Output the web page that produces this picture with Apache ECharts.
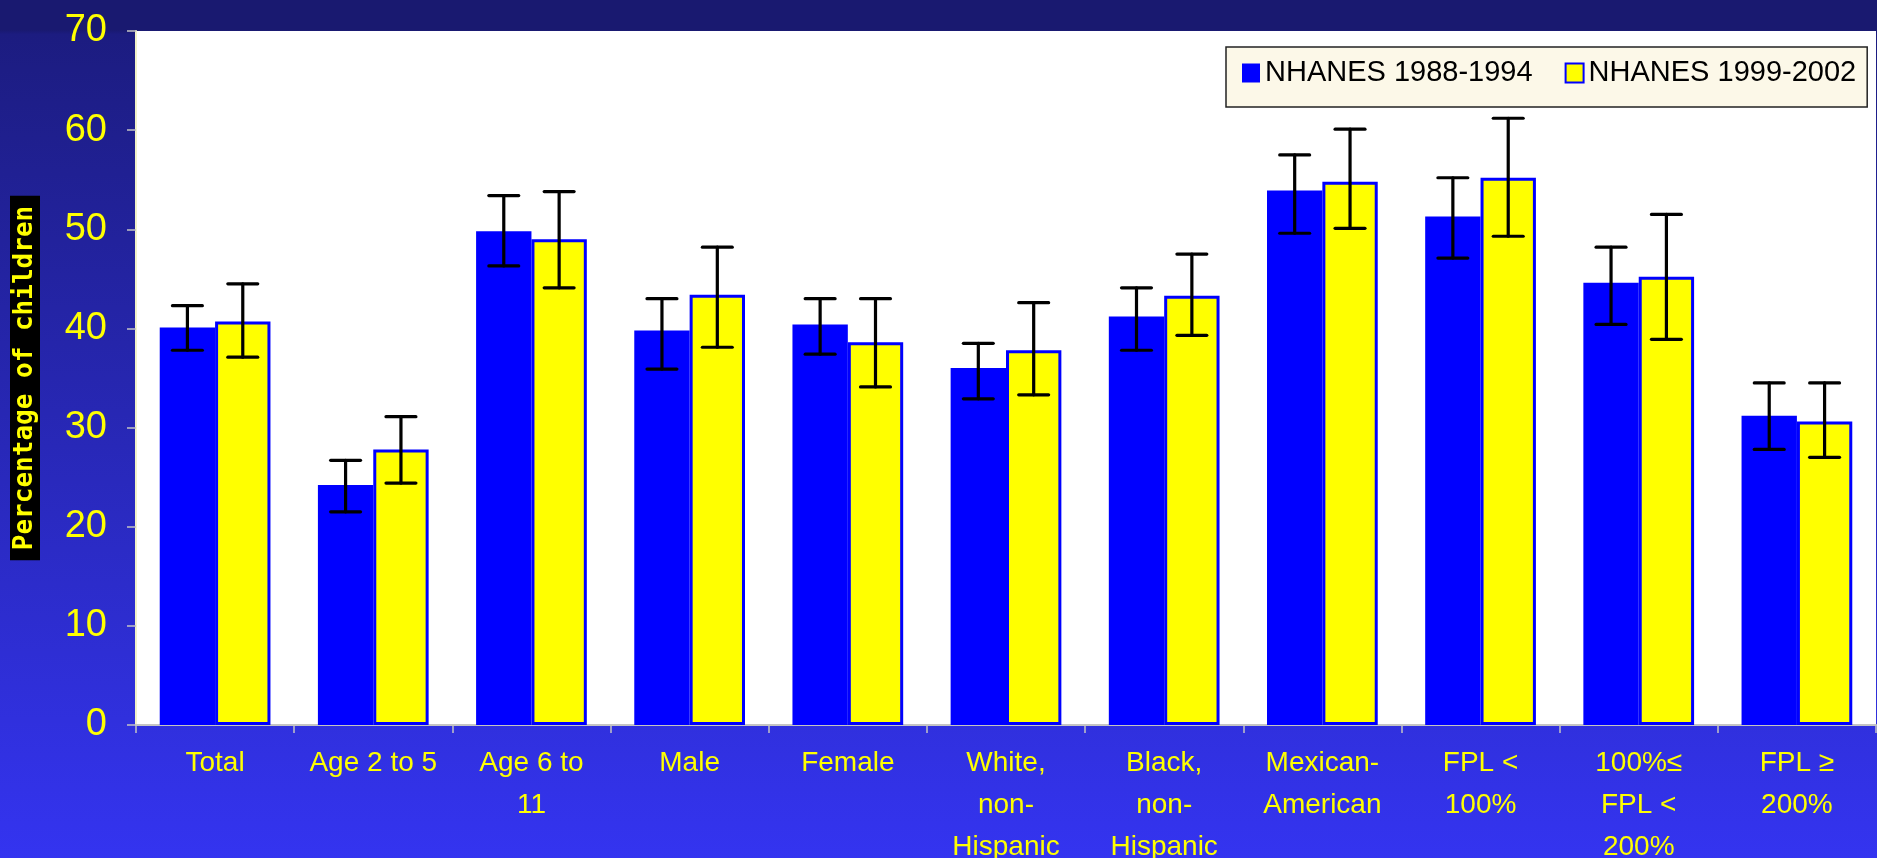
<!DOCTYPE html>
<html>
<head>
<meta charset="utf-8">
<script src="https://cdn.jsdelivr.net/npm/echarts@6/dist/echarts.min.js"></script>
<style>
html,body{margin:0;padding:0;width:1877px;height:858px;overflow:hidden;}
#chart{width:1877px;height:858px;}
</style>
</head>
<body>
<div id="chart"></div>
<script>
const categories = ["Total", "Age 2 to 5", "Age 6 to\n11", "Male", "Female", "White,\nnon-\nHispanic", "Black,\nnon-\nHispanic", "Mexican-\nAmerican", "FPL <\n100%", "100%≤\nFPL <\n200%", "FPL ≥\n200%"];
const seriesNames = ["NHANES 1988-1994", "NHANES 1999-2002"];
const values1988 = [40.1, 24.2, 49.8, 39.8, 40.4, 36.0, 41.2, 53.9, 51.3, 44.6, 31.2];
const upper1988  = [42.3, 26.7, 53.4, 43.0, 43.0, 38.5, 44.1, 57.5, 55.2, 48.2, 34.5];
const lower1988  = [37.8, 21.5, 46.3, 35.9, 37.4, 32.9, 37.8, 49.6, 47.1, 40.4, 27.8];
const values1999 = [40.7, 27.8, 49.0, 43.4, 38.6, 37.8, 43.3, 54.8, 55.2, 45.2, 30.6];
const upper1999  = [44.5, 31.1, 53.8, 48.2, 43.0, 42.6, 47.5, 60.1, 61.2, 51.5, 34.5];
const lower1999  = [37.1, 24.4, 44.1, 38.1, 34.1, 33.3, 39.3, 50.1, 49.3, 38.9, 27.0];
const yTicks = [0, 10, 20, 30, 40, 50, 60, 70];

const FONT = "'Liberation Sans', Arial, sans-serif";
const CAT_GAP = 0.30;

function errorSeries(upper, lower, side) {
  return {
    type: 'custom',
    z: 10,
    silent: true,
    data: upper.map((u, i) => [i, u, lower[i]]),
    encode: { x: 0, y: [1, 2] },
    renderItem: function (params, api) {
      const idx = api.value(0);
      const band = api.size([1, 0])[0];
      const barW = band * (1 - CAT_GAP) / 2;
      const x = api.coord([idx, 0])[0] + side * barW / 2;
      const yTop = api.coord([idx, api.value(1)])[1];
      const yBot = api.coord([idx, api.value(2)])[1];
      const half = barW * 0.27;
      const style = { stroke: '#000', lineWidth: 3.2, lineCap: 'round' };
      return {
        type: 'group',
        children: [
          { type: 'line', shape: { x1: x, y1: yTop, x2: x, y2: yBot }, style: style },
          { type: 'line', shape: { x1: x - half, y1: yTop, x2: x + half, y2: yTop }, style: style },
          { type: 'line', shape: { x1: x - half, y1: yBot, x2: x + half, y2: yBot }, style: style }
        ]
      };
    }
  };
}

const chart = echarts.init(document.getElementById('chart'), null, { renderer: 'canvas' });
chart.setOption({
  animation: false,
  backgroundColor: {
    type: 'linear', x: 0, y: 0, x2: 0, y2: 1,
    colorStops: [
      { offset: 0, color: '#191970' },
      { offset: 0.035, color: '#191970' },
      { offset: 0.04, color: '#1c1c80' },
      { offset: 1, color: '#3434F0' }
    ]
  },
  grid: {
    left: 136, right: 1, top: 31, bottom: 133,
    outerBoundsMode: 'none',
    containLabel: false,
    show: true, backgroundColor: '#FFFFFF', borderWidth: 0
  },
  legend: {
    data: seriesNames,
    left: 1226, top: 47,
    orient: 'horizontal',
    backgroundColor: '#FCF8E8',
    borderColor: '#222',
    borderWidth: 1.5,
    padding: [11, 11, 19, 16],
    itemWidth: 18, itemHeight: 19,
    itemGap: 32,
    icon: 'rect',
    textStyle: { color: '#000', fontSize: 29, fontFamily: FONT, lineHeight: 30, padding: [0, 0, 0, 0] }
  },
  xAxis: {
    type: 'category',
    data: categories,
    boundaryGap: true,
    axisLine: { show: true, lineStyle: { color: '#C4C4C4', width: 2 } },
    axisTick: { show: true, alignWithLabel: false, inside: false, length: 8, lineStyle: { color: '#C4C4C4', width: 1.5 } },
    axisLabel: {
      color: '#FFFF00', fontSize: 28, fontFamily: FONT, lineHeight: 42, margin: 17, interval: 0
    },
    splitLine: { show: false }
  },
  yAxis: {
    type: 'value',
    min: 0, max: 70, interval: 10,
    name: 'Percentage of children',
    nameLocation: 'middle',
    nameRotate: 90,
    nameGap: 96,
    nameTextStyle: {
      color: '#FFFF00', backgroundColor: '#000000', fontFamily: "'DejaVu Sans Mono', monospace",
      fontWeight: 'bold', fontSize: 26, lineHeight: 26, padding: [2, 10, 2, 10]
    },
    axisLine: { show: true, lineStyle: { color: '#F2F2C8', width: 2 } },
    axisTick: { show: true, inside: false, length: 9, lineStyle: { color: '#C4C4C4', width: 1.5 } },
    axisLabel: {
      color: '#FFFF00', fontSize: 38, fontFamily: FONT, margin: 29,
      formatter: function (v) { return yTicks.indexOf(v) >= 0 ? String(v) : ''; }
    },
    splitLine: { show: false }
  },
  series: [
    {
      name: seriesNames[0], type: 'bar', data: values1988,
      barGap: '0%', barCategoryGap: (CAT_GAP * 100) + '%',
      itemStyle: { color: '#0000FF' }
    },
    {
      name: seriesNames[1], type: 'bar', data: values1999,
      barGap: '0%', barCategoryGap: (CAT_GAP * 100) + '%',
      itemStyle: { color: '#FFFF00', borderColor: '#0000FF', borderWidth: 3 }
    },
    errorSeries(upper1988, lower1988, -1),
    errorSeries(upper1999, lower1999, 1)
  ]
});
</script>
</body>
</html>
